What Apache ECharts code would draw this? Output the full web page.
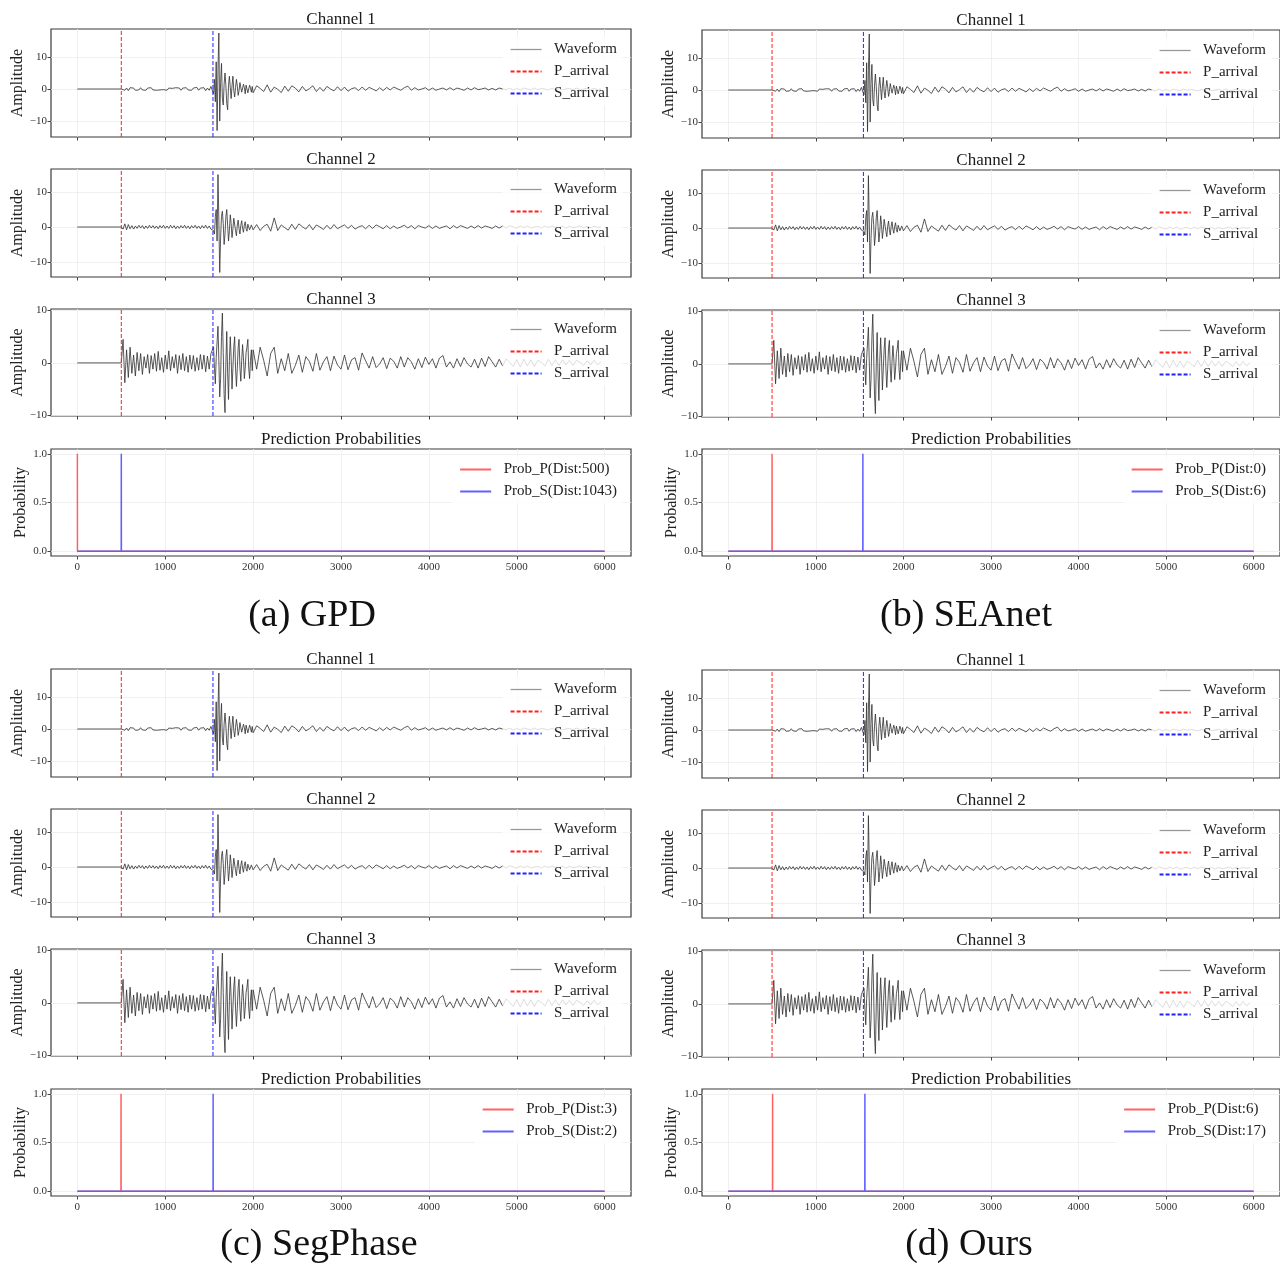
<!DOCTYPE html>
<html>
<head>
<meta charset="utf-8">
<script src="https://cdn.jsdelivr.net/npm/echarts@6/dist/echarts.min.js"></script>
<style>
  html, body { margin: 0; background: #fff; }
  #chart { width: 1280px; height: 1263px; }
</style>
</head>
<body>
<div id="chart"></div>
<script>
// ---- data ----
const panelNames = ['(a) GPD', '(b) SEAnet', '(c) SegPhase', '(d) Ours'];
const channelNames = ['Channel 1', 'Channel 2', 'Channel 3'];
const trueP = 500;
const trueS = 1543;
const predP = [0, 500, 497, 506];
const predS = [500, 1537, 1545, 1560];
const xTicks = [0, 1000, 2000, 3000, 4000, 5000, 6000];
const ampTicks = [-10, 0, 10];
const probTicks = [0, 0.5, 1];

// waveform samples: noise every 20 from P, event every 10 from 1540, coda every 40 from 2000
const ch1Noise = [
  0.0, 0.6, -0.4, 0.3, -0.5, 0.4, -0.2, 0.3, -0.4, 0.2,
  -0.3, 0.4, -0.3, 0.2, -0.4, 0.3, -0.2, 0.4, -0.3, 0.3,
  -0.4, 0.2, -0.3, 0.3, -0.2, 0.4, -0.4, 0.3, -0.3, 0.2,
  -0.3, 0.4, -0.2, 0.3, -0.4, 0.3, -0.3, 0.4, -0.3, 0.2,
  -0.4, 0.3, -0.3, 0.5, -0.4, 0.3, -0.3, 0.4, -0.5, 0.3,
  -0.4, 0.8
];
const ch1Event = [
  0.5, -1.5, 3.0, -4.0, 8.5, -13.0, 6.0, 17.5, -10.0, 2.0,
  8.0, -3.0, -5.0, 1.5, 5.0, 1.0, -4.5, -6.5, 1.0, 4.0,
  0.5, -3.0, 1.0, 4.0, -0.5, -2.5, 0.5, 3.0, 1.0, -2.0,
  -0.5, 2.0, 2.5, -1.0, -1.5, 1.5, 0.5, -1.5, 1.2, 1.5,
  -1.2, -0.8, 1.2, 0.3, -1.0, 0.8
];
const ch1Coda = [
  -1.2, 1.0, 0.2, -0.8, 1.3, -1.0, 0.6, -0.1, -1.1, 0.9,
  -0.7, 1.0, 0.3, -0.9, 0.8, -0.6, 0.1, 1.0, -0.8, 0.5,
  -0.7, 0.8, 0.0, -0.6, 0.7, -0.5, 0.6, -0.7, 0.1, 0.4,
  -0.5, 0.6, -0.4, 0.5, 0.0, -0.6, 0.4, -0.5, 0.5, -0.3,
  0.6, 0.1, -0.4, 0.4, 0.9, -0.4, 0.4, -0.3, 0.0, 0.4,
  -0.4, 0.3, -0.4, 0.0, 0.3, -0.3, 0.4, -0.3, 0.3, 0.0,
  -0.4, 0.3, -0.3, 0.4, -0.2, 0.0, 0.3, -0.3, 0.2, -0.3,
  0.3, 0.0, -0.2, 0.3, -0.3, 0.2, -0.3, 0.3, 0.0, -0.2,
  0.3, -0.2, 0.2, 0.0, -0.3, 0.2, -0.2, 0.3, -0.2, 0.0,
  0.2, -0.2, 0.3, -0.2, 0.0, 0.2, -0.2, 0.2, -0.2, 0.1
];

const ch2Noise = [
  0.0, -0.6, 0.9, -0.8, 0.7, -0.5, 0.4, -0.6, 0.3, -0.4,
  0.5, -0.3, 0.4, -0.5, 0.3, -0.4, 0.5, -0.3, 0.4, -0.4,
  0.3, -0.5, 0.4, -0.3, 0.5, -0.4, 0.3, -0.4, 0.5, -0.3,
  0.4, -0.5, 0.3, -0.4, 0.4, -0.3, 0.5, -0.4, 0.3, -0.5,
  0.4, -0.3, 0.5, -0.4, 0.3, -0.5, 0.4, -0.3, 0.5, -0.4,
  0.3, -0.6
];
const ch2Event = [
  -0.5, -1.0, -2.0, 3.0, 5.0, -4.0, 15.0, 2.0, -13.0, -3.0,
  3.0, 4.5, 1.0, -5.0, -2.0, 3.0, 5.0, 0.5, -4.0, -1.0,
  3.5, 1.0, -3.0, -0.5, 2.5, 3.0, -1.0, -2.5, 0.5, 2.0,
  -0.5, -2.0, 0.5, 1.8, -0.3, -1.5, 0.5, 1.5, -0.5, -1.2,
  0.8, 1.2, -0.8, -1.0, 0.6, 1.0
];
const ch2Coda = [
  -0.8, 0.7, -1.0, 0.2, 0.8, -1.2, 2.6, -1.0, 0.6, -0.2,
  -0.9, 0.8, -0.7, 0.9, 0.1, -0.6, 0.7, -0.8, 0.6, 0.0,
  -0.7, 0.5, -0.6, 0.7, -0.5, 0.1, 0.6, -0.4, 0.5, -0.6,
  0.0, 0.4, -0.5, 0.5, -0.4, 0.6, 0.1, -0.5, 0.4, -0.5,
  0.3, -0.4, 0.0, 0.5, -0.3, 0.4, -0.5, 0.4, 0.0, -0.3,
  0.4, -0.4, 0.3, -0.4, 0.0, 0.3, -0.5, 0.4, -0.3, 0.4,
  0.0, -0.4, 0.3, -0.3, 0.4, -0.3, 0.3, 0.0, -0.4, 0.3,
  -0.3, 0.3, -0.3, 0.4, 0.0, -0.3, 0.3, -0.2, 0.3, -0.3,
  0.0, 0.2, -0.3, 0.3, -0.2, 0.3, 0.0, -0.2, 0.2, -0.3,
  0.2, -0.2, 0.0, 0.3, -0.2, 0.2, -0.2, 0.2, -0.1, 0.1
];

const ch3Noise = [
  0.0, 4.5, -3.8, 2.5, -2.8, 3.0, -2.0, 1.5, -2.5, 2.0,
  -1.5, 1.8, -2.2, 1.2, -1.0, 1.6, -2.0, 1.4, -1.2, 1.8,
  -1.6, 2.2, -1.4, 1.0, -1.8, 1.5, -1.2, 2.3, -1.5, 1.2,
  -1.0, 1.6, -2.0, 1.4, -1.3, 1.8, -1.5, 1.2, -1.8, 1.5,
  -1.2, 1.4, -1.6, 1.0, -1.4, 1.6, -1.2, 1.5, -1.7, 1.3,
  -1.2, 1.8
];
const ch3Event = [
  2.0, 3.0, -1.0, -4.0, 1.0, 4.0, 7.0, 0.5, -6.5, -3.0,
  5.0, 9.5, 2.0, -6.0, -9.5, 0.0, 6.0, -2.0, -7.0, 0.5,
  5.0, 1.0, -5.0, -1.0, 3.0, 5.0, -1.0, -4.5, -1.0, 3.0,
  4.5, -1.0, -3.5, 0.5, 3.5, 1.0, -3.0, -1.0, 2.0, 3.0,
  4.5, -1.0, -3.0, 0.5, 2.5, -1.5
];
const ch3Coda = [
  2.5, -1.2, 3.0, 0.5, -2.5, 1.8, 3.0, -2.0, 0.8, -1.5,
  1.8, -2.0, -0.5, 1.5, -1.8, 1.2, 0.3, -1.6, 1.8, -1.4,
  0.2, 1.2, -1.5, 1.3, -0.4, -1.2, 1.5, -1.3, 0.6, 1.0,
  -1.4, 1.9, 0.4, -1.0, 1.2, -0.9, -0.2, 1.0, -1.1, 0.9,
  0.3, -1.0, 1.2, -0.8, 1.0, 0.2, -1.2, 0.8, -0.9, 1.1,
  -0.3, 0.8, -1.0, 0.9, 1.4, -0.8, 0.2, -1.0, 0.8, -0.7,
  1.0, -0.2, -0.8, 0.7, -1.0, 0.9, -0.7, 1.2, 0.2, -0.8,
  0.7, -0.6, 0.8, 0.1, -0.7, 0.6, -0.8, 0.7, -0.6, 0.6,
  -0.7, 0.5, 0.1, -0.6, 0.7, -0.5, 0.6, -0.5, 0.6, -0.4,
  0.5, -0.5, 0.5, 0.1, -0.5, 0.4, -0.4, 0.5, -0.4, 0.3
];

// ---- layout ----
const FONT = '"Liberation Serif", "DejaVu Serif", serif';
const colLeft = [51, 702];
const colWidth = [580, 578];
const rowTops = [
  [29, 169, 309, 449],
  [30, 170, 310, 449],
  [669, 809, 949, 1089],
  [670, 810, 950, 1089]
];
const rowHeight = [108, 108, 107, 107];
const yRanges = [[-15, 18.75], [-14.3, 16.6], [-10.15, 10.3], [-0.05, 1.05]];
const captionPos = [[312, 616], [966, 616], [319, 1245], [969, 1245]];

function trace(noise, event, coda) {
  const pts = [[0, 0]];
  noise.forEach((v, k) => pts.push([trueP + 20 * k, v]));
  event.forEach((v, k) => pts.push([1540 + 10 * k, v]));
  coda.forEach((v, k) => pts.push([2000 + 40 * k, v]));
  return pts;
}
const waves = [
  trace(ch1Noise, ch1Event, ch1Coda),
  trace(ch2Noise, ch2Event, ch2Coda),
  trace(ch3Noise, ch3Event, ch3Coda)
];

function probTrace(pick) {
  const pts = [];
  if (pick > 0) pts.push([0, 0], [pick - 1, 0]);
  pts.push([pick, 1], [pick + 1, 0], [5999, 0]);
  return pts;
}

const grids = [], xAxes = [], yAxes = [], series = [], legends = [], graphics = [];
const minus = v => String(v).replace('-', '\u2212');

for (let p = 0; p < 4; p++) {
  const col = p % 2;
  const left = colLeft[col];
  const width = colWidth[col];
  for (let r = 0; r < 4; r++) {
    const g = p * 4 + r;
    const top = rowTops[p][r];
    const isProb = r === 3;
    const [yMin, yMax] = yRanges[r];
    grids.push({
      left, top, width, height: rowHeight[r],
      show: true, borderColor: '#3a3a3a', borderWidth: 1.2,
      backgroundColor: 'transparent'
    });
    xAxes.push({
      gridIndex: g, type: 'value', min: -300, max: 6300,
      axisLine: { show: false, onZero: false },
      axisTick: { show: true, customValues: xTicks, length: 3.5, lineStyle: { color: '#444' } },
      axisLabel: {
        show: isProb, customValues: xTicks, margin: 6,
        formatter: v => String(v),
        fontFamily: FONT, fontSize: 11, color: '#333'
      },
      splitLine: { show: true, lineStyle: { color: '#ececec', width: 0.8 } }
    });
    const ticks = isProb ? probTicks : ampTicks;
    yAxes.push({
      gridIndex: g, type: 'value', min: yMin, max: yMax,
      name: isProb ? 'Probability' : 'Amplitude',
      nameLocation: 'middle', nameGap: isProb ? 22 : 23,
      nameTextStyle: { fontFamily: FONT, fontSize: 16, color: '#222' },
      axisLine: { show: false, onZero: false },
      axisTick: { show: true, customValues: ticks, length: 3.5, lineStyle: { color: '#444' } },
      axisLabel: {
        customValues: ticks, margin: 4,
        formatter: v => isProb ? v.toFixed(1) : minus(v),
        fontFamily: FONT, fontSize: 11, color: '#333'
      },
      splitLine: { show: true, lineStyle: { color: '#ececec', width: 0.8 } }
    });

    graphics.push({
      type: 'text', x: left + width / 2, y: top - 9,
      style: {
        text: isProb ? 'Prediction Probabilities' : channelNames[r],
        font: '17px ' + FONT, fill: '#1a1a1a',
        textAlign: 'center', textVerticalAlign: 'middle',
        align: 'center', verticalAlign: 'middle'
      }
    });

    const legendBase = {
      orient: 'vertical', right: 1280 - (left + width) + 8, top: top + 8,
      itemWidth: 31, itemHeight: 14, itemGap: 7,
      padding: [5, 6, 5, 7],
      backgroundColor: 'rgba(255,255,255,0.8)',
      itemStyle: { color: 'rgba(0,0,0,0)', borderColor: 'rgba(0,0,0,0)', borderWidth: 0, opacity: 0 },
      formatter: name => '  ' + name,
      textStyle: { fontFamily: FONT, fontSize: 15, color: '#222' },
      selectedMode: false
    };

    if (!isProb) {
      series.push({
        type: 'line', name: 'Waveform', xAxisIndex: g, yAxisIndex: g,
        data: waves[r], symbol: 'none', silent: true,
        lineStyle: { color: '#2e2e2e', width: 0.8 },
        itemStyle: { color: '#2e2e2e' }
      });
      series.push({
        type: 'line', name: 'P_arrival', xAxisIndex: g, yAxisIndex: g,
        data: [[trueP, yMin], [trueP, yMax]], symbol: 'none', silent: true,
        lineStyle: { color: '#ff2020', width: 1, type: [4, 2] },
        itemStyle: { color: '#ff2020' }
      });
      series.push({
        type: 'line', name: 'S_arrival', xAxisIndex: g, yAxisIndex: g,
        data: [[trueS, yMin], [trueS, yMax]], symbol: 'none', silent: true,
        lineStyle: { color: '#2020ff', width: 1, type: [4, 2] },
        itemStyle: { color: '#2020ff' }
      });
      legends.push(Object.assign({
        data: [
          { name: 'Waveform', lineStyle: { color: '#999', width: 1.3 } },
          'P_arrival', 'S_arrival'
        ]
      }, legendBase));
    } else {
      const nameP = 'Prob_P(Dist:' + Math.abs(predP[p] - trueP) + ')';
      const nameS = 'Prob_S(Dist:' + Math.abs(predS[p] - trueS) + ')';
      series.push({
        type: 'line', name: nameP, xAxisIndex: g, yAxisIndex: g,
        data: probTrace(predP[p]), symbol: 'none', silent: true,
        lineStyle: { color: '#ff6060', width: 1.5 },
        itemStyle: { color: '#ff6060' }
      });
      series.push({
        type: 'line', name: nameS, xAxisIndex: g, yAxisIndex: g,
        data: probTrace(predS[p]), symbol: 'none', silent: true,
        lineStyle: { color: '#6060ff', width: 1.5 },
        itemStyle: { color: '#6060ff' }
      });
      legends.push(Object.assign({ data: [nameP, nameS] }, legendBase));
    }
  }
  graphics.push({
    type: 'text', x: captionPos[p][0], y: captionPos[p][1],
    style: {
      text: panelNames[p], font: '38px ' + FONT, fill: '#111',
      textAlign: 'center', textVerticalAlign: 'middle',
      align: 'center', verticalAlign: 'middle'
    }
  });
}

const chart = echarts.init(document.getElementById('chart'));
chart.setOption({
  backgroundColor: '#fff',
  animation: false,
  grid: grids,
  xAxis: xAxes,
  yAxis: yAxes,
  legend: legends,
  series: series,
  graphic: graphics
});
window.addEventListener('resize', () => chart.resize());
</script>
</body>
</html>
